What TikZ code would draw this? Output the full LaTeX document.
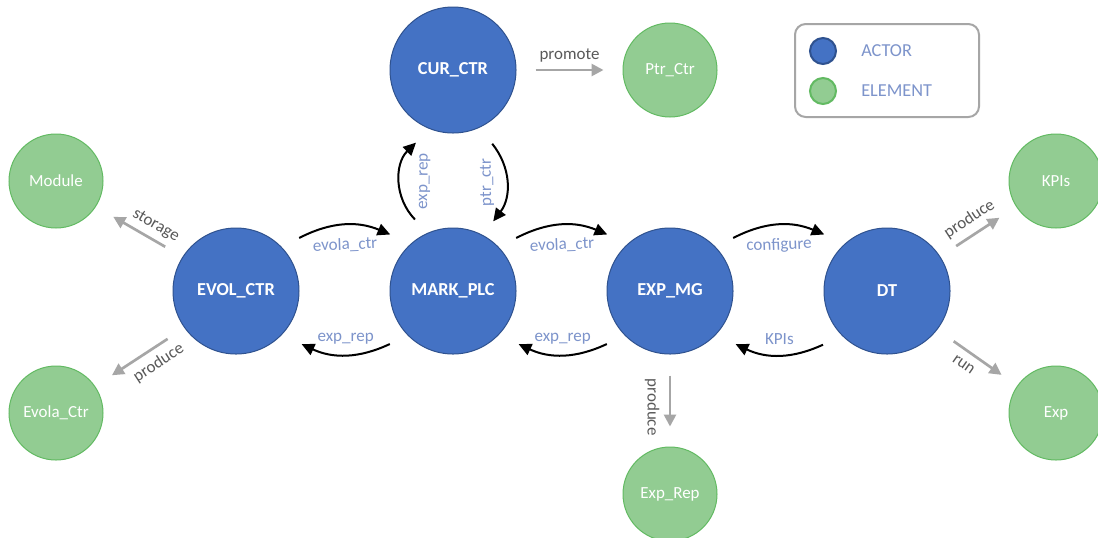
\documentclass[tikz,border=0pt]{standalone}
\usepackage{fontspec}
\setmainfont{Carlito}
\usetikzlibrary{arrows.meta}

\definecolor{actorblue}{RGB}{68,114,196}
\definecolor{actoredge}{RGB}{47,82,143}
\definecolor{elemgreen}{RGB}{146,204,146}
\definecolor{elemedge}{RGB}{98,186,98}
\definecolor{flowtext}{RGB}{125,148,203}
\definecolor{linkgray}{RGB}{166,166,166}
\definecolor{linktext}{RGB}{89,89,89}

\tikzset{
  flowtip/.tip={Triangle[length=9.5pt,width=9pt]},
  linktip/.tip={Triangle[length=9pt,width=9pt]},
  actor/.style={circle, fill=actorblue, draw=actoredge, line width=0.75pt,
    minimum size=94.5pt, inner sep=0pt, text=white,
    font=\fontsize{13.7}{16}\selectfont\bfseries},
  element/.style={circle, fill=elemgreen, draw=elemedge, line width=0.75pt,
    minimum size=70.5pt, inner sep=0pt, text=white,
    font=\fontsize{12.7}{15}\selectfont},
  flowarrow/.style={-flowtip, line width=1.5pt, black},
  linkarrow/.style={-linktip, line width=2pt, linkgray},
  flowlabel/.style={text=flowtext, inner sep=1pt, font=\fontsize{12.8}{15}\selectfont},
  linklabel/.style={text=linktext, inner sep=1pt, font=\fontsize{12.7}{15}\selectfont},
  keybox/.style={draw=linkgray, line width=1.5pt, rounded corners=8pt},
  keyactor/.style={circle, fill=actorblue, draw=actoredge, line width=1.5pt, minimum size=19.5pt, inner sep=0pt},
  keyelement/.style={circle, fill=elemgreen, draw=elemedge, line width=1.5pt, minimum size=19.5pt, inner sep=0pt},
  keytext/.style={text=flowtext, anchor=west, inner sep=0pt, font=\fontsize{13.7}{16}\selectfont},
}

\begin{document}
\begin{tikzpicture}[x=0.75pt, y=0.75pt]
    \path[use as bounding box, fill=white] (0,0) rectangle (1098,-537);

    % actors
    \node[actor] at (453,-70) (cur) {CUR\_CTR};
    \node[actor] at (236,-291) (evol) {EVOL\_CTR};
    \node[actor] at (453,-291) (mark) {MARK\_PLC};
    \node[actor] at (670,-291) (expmg) {EXP\_MG};
    \node[actor] at (887,-291) (dt) {DT};

    % elements
    \node[element] at (670,-70) (ptr) {Ptr\_Ctr};
    \node[element] at (56,-181) (module) {Module};
    \node[element] at (56,-413) (evolactr) {Evola\_Ctr};
    \node[element] at (1056,-181) (kpis) {KPIs};
    \node[element] at (1056,-413) (exp) {Exp};
    \node[element] at (670,-494) (exprep) {Exp\_Rep};

    % flows between actors
    \draw[flowarrow] ([shift={(40:19)}]evol.40) to[bend left=25]
        node[flowlabel, midway, sloped, below=8pt] {evola\_ctr} ([shift={(138:21)}]mark.138);
    \draw[flowarrow] ([shift={(220:19)}]mark.220) to[bend left=25]
        node[flowlabel, midway, sloped, above=6.5pt] {exp\_rep} ([shift={(321:21)}]evol.321);
    \draw[flowarrow] ([shift={(40:19)}]mark.40) to[bend left=25]
        node[flowlabel, midway, sloped, below=8pt] {evola\_ctr} ([shift={(138:21)}]expmg.138);
    \draw[flowarrow] ([shift={(220:19)}]expmg.220) to[bend left=25]
        node[flowlabel, midway, sloped, above=6.5pt] {exp\_rep} ([shift={(321:21)}]mark.321);
    \draw[flowarrow] ([shift={(40:19)}]expmg.40) to[bend left=25]
        node[flowlabel, midway, sloped, below=8pt] {configure} ([shift={(138:21)}]dt.138);
    \draw[flowarrow] ([shift={(220:20)}]dt.220) to[bend left=25]
        node[flowlabel, midway, sloped, above=6.5pt] {KPIs} ([shift={(321:21)}]expmg.321);
    \draw[flowarrow] ([shift={(118:17.5)}]mark.118) to[bend left=45]
        node[flowlabel, midway, sloped, allow upside down, below=13pt] {exp\_rep} ([shift={(243:18)}]cur.243);
    \draw[flowarrow, flowtip-] ([shift={(60:17)}]mark.60) to[bend right=38]
        node[flowlabel, midway, sloped, allow upside down, above=8pt] {ptr\_ctr} ([shift={(298:20)}]cur.298);

    % links to elements
    \draw[linkarrow] ([shift={(0:19)}]cur.0) --
        node[linklabel, above=4pt] {promote} ([shift={(180:19)}]ptr.180);
    \draw[linkarrow] ([shift={(148:20)}]evol.148) --
        node[linklabel, pos=0.31, sloped, above=3pt] {storage} ([shift={(328:20)}]module.328);
    \draw[linkarrow] ([shift={(215:20)}]evol.215) --
        node[linklabel, pos=0.31, sloped, below=4pt] {produce} ([shift={(34:20)}]evolactr.34);
    \draw[linkarrow] ([shift={(33:19)}]dt.33) --
        node[linklabel, midway, sloped, above=4pt] {produce} ([shift={(213:20)}]kpis.213);
    \draw[linkarrow] ([shift={(323:20)}]dt.323) --
        node[linklabel, pos=0.37, sloped, below=5pt] {run} ([shift={(145:19)}]exp.145);
    \draw[linkarrow] ([shift={(270:21)}]expmg.270) --
        node[linklabel, pos=0.62, sloped, allow upside down, below=6pt] {produce} ([shift={(90:20)}]exprep.90);

    % legend
    \draw[keybox] (795,-24) rectangle (979,-117);
    \node[keyactor] at (823,-51) (keya) {};
    \node[keyelement] at (823,-91) (keye) {};
    \node[keytext] at (861,-51) (keyat) {ACTOR};
    \node[keytext] at (861,-91) (keyet) {ELEMENT};
\end{tikzpicture}
\end{document}
